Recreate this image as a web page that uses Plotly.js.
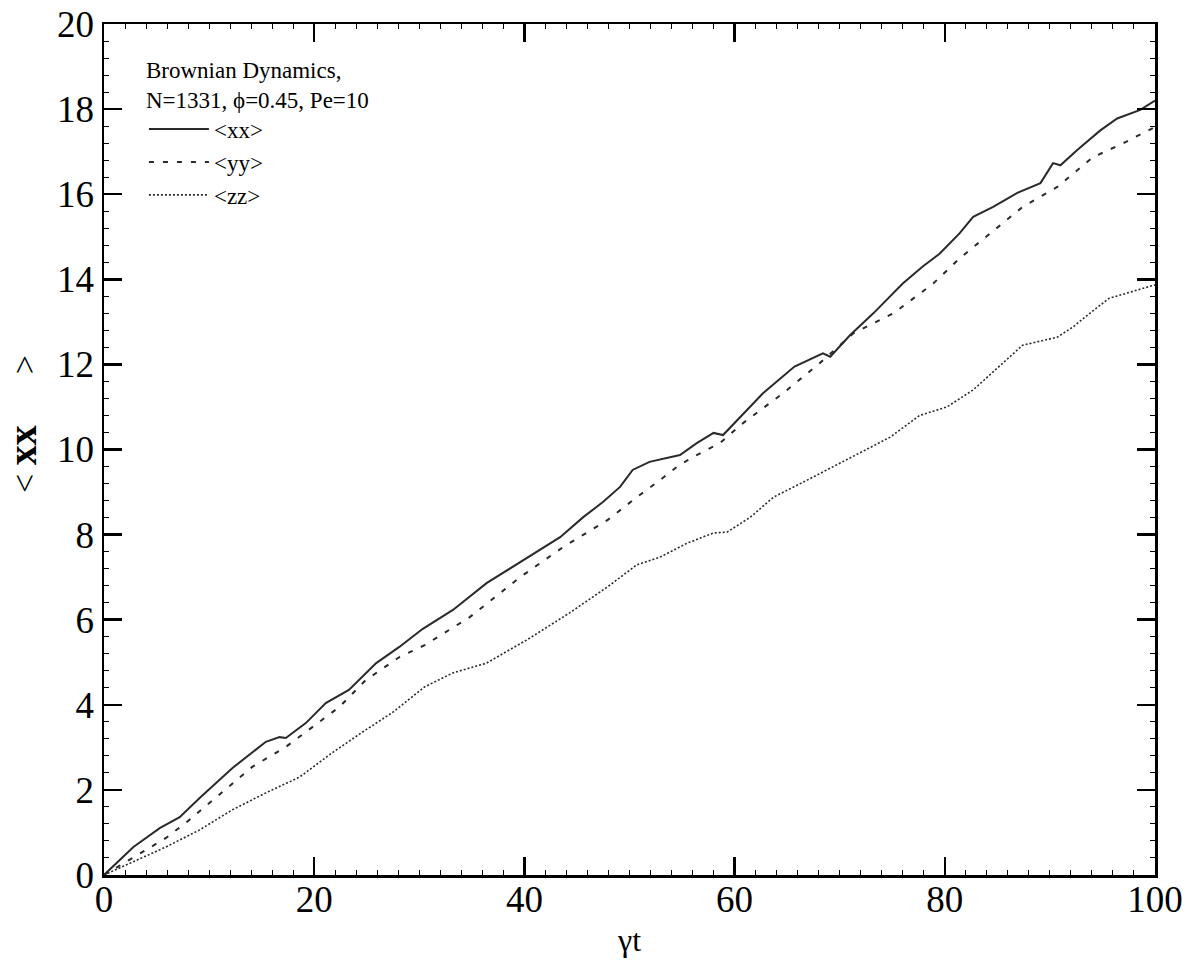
<!DOCTYPE html>
<html>
<head>
<meta charset="utf-8">
<script src="https://cdn.plot.ly/plotly-3.0.1.min.js"></script>
<style>html,body{margin:0;padding:0;background:#fff;}#chart{width:1191px;height:963px;}</style>
</head>
<body>
<div id="chart"></div>
<script>
// <xx> (solid)
const xxT = [0, 2.8, 5.3, 7.2, 9.1, 12.2, 15.4, 16.7, 17.3, 19.2, 21.1, 23.3, 25.9, 28.1, 30.3, 33.2, 36.4, 39.6, 41.2, 43.4, 45.6, 47.5, 49.1, 50.3, 51.9, 54.8, 56.4, 58.0, 58.9, 60.5, 62.7, 65.7, 68.4, 69.1, 71.0, 73.2, 76.0, 77.9, 79.5, 81.4, 82.7, 84.6, 86.9, 89.1, 90.3, 91.0, 92.6, 94.8, 96.4, 98.6, 100];
const xxV = [0, 0.66, 1.1, 1.36, 1.81, 2.51, 3.13, 3.24, 3.22, 3.57, 4.04, 4.35, 4.98, 5.36, 5.78, 6.23, 6.86, 7.36, 7.59, 7.94, 8.41, 8.77, 9.12, 9.52, 9.71, 9.87, 10.15, 10.39, 10.34, 10.76, 11.32, 11.95, 12.26, 12.18, 12.69, 13.2, 13.9, 14.3, 14.6, 15.08, 15.47, 15.7, 16.03, 16.26, 16.73, 16.68, 17.04, 17.5, 17.78, 17.98, 18.2];
// <yy> (dashed)
const yyT = [0, 5.9, 8.1, 11.2, 14.1, 17.3, 19.8, 22.4, 24.9, 28.1, 30.5, 34.8, 39.6, 43.7, 47.9, 50.7, 52.9, 54.5, 56.0, 58.6, 60.8, 64.6, 68.1, 71.3, 75.1, 78.9, 81.4, 84.3, 87.4, 90.7, 94.1, 97.0, 100];
const yyV = [0, 0.87, 1.29, 1.93, 2.54, 3.01, 3.48, 3.95, 4.58, 5.12, 5.4, 6.06, 7.0, 7.71, 8.34, 8.88, 9.28, 9.59, 9.82, 10.15, 10.62, 11.32, 12.03, 12.73, 13.2, 13.9, 14.49, 15.08, 15.7, 16.17, 16.87, 17.2, 17.58];
// <zz> (dotted)
const zzT = [0, 5.9, 9.1, 12.2, 15.4, 18.6, 21.7, 24.9, 27.4, 30.5, 33.2, 36.4, 40.2, 44.3, 47.9, 50.7, 52.9, 55.5, 58.0, 59.3, 61.5, 63.7, 66.9, 69.8, 74.8, 77.6, 80.2, 82.7, 87.4, 90.7, 92.2, 93.8, 95.6, 100];
const zzV = [0, 0.66, 1.06, 1.53, 1.93, 2.3, 2.87, 3.41, 3.81, 4.42, 4.75, 4.98, 5.52, 6.16, 6.77, 7.29, 7.47, 7.8, 8.04, 8.06, 8.41, 8.88, 9.28, 9.65, 10.29, 10.8, 11.0, 11.4, 12.45, 12.64, 12.88, 13.2, 13.55, 13.87];

const seriesNames = ['&lt;xx&gt;', '&lt;yy&gt;', '&lt;zz&gt;'];
const legendTitle = 'Brownian Dynamics,<br>N=1331, ϕ=0.45, Pe=10';
const xTitle = 'γt';
const NB = '\u00a0';
const yTitle = '\u200b' + NB.repeat(6) + '&lt;' + NB + '<span style="font-size:40px"><b>xx</b></span>' + NB.repeat(6) + '&gt;';

const lineColor = '#2a2a2a';
const traces = [
  {x: xxT, y: xxV, name: seriesNames[0], mode: 'lines', line: {color: lineColor, width: 2, dash: 'solid'}},
  {x: yyT, y: yyV, name: seriesNames[1], mode: 'lines', line: {color: lineColor, width: 2, dash: '5px,9px'}},
  {x: zzT, y: zzV, name: seriesNames[2], mode: 'lines', line: {color: lineColor, width: 1.6, dash: '2px,2px'}}
];

const serif = 'Liberation Serif, Times New Roman, serif';
const axisCommon = {
  showline: true, linecolor: '#000', linewidth: 2.5, mirror: 'allticks',
  ticks: 'inside', ticklen: 18, tickwidth: 2.5, tickcolor: '#000',
  showgrid: false, zeroline: false,
  tickfont: {family: serif, size: 37, color: '#000'}
};

const layout = {
  width: 1191, height: 963,
  margin: {l: 104, r: 36, t: 24, b: 88},
  paper_bgcolor: '#fff', plot_bgcolor: '#fff',
  font: {family: serif, color: '#000'},
  xaxis: Object.assign({}, axisCommon, {
    range: [0, 100], dtick: 20, tick0: 0, ticklabelstandoff: -10,
    minor: {dtick: 2, ticklen: 5, tickwidth: 1, tickcolor: '#000', ticks: 'inside'},
    title: {text: xTitle, font: {family: serif, size: 32, color: '#000'}, standoff: 10}
  }),
  yaxis: Object.assign({}, axisCommon, {
    range: [0, 20], dtick: 2, tick0: 0,
    minor: {dtick: 0.4, ticklen: 5, tickwidth: 1, tickcolor: '#000', ticks: 'inside'},
    title: {text: yTitle, font: {family: serif, size: 34, color: '#000'}, standoff: 16}
  }),
  showlegend: true,
  legend: {
    x: 0.038, y: 0.972, xanchor: 'left', yanchor: 'top',
    bgcolor: 'rgba(0,0,0,0)', borderwidth: 0,
    font: {family: serif, size: 23, color: '#000'},
    title: {text: legendTitle, font: {family: serif, size: 23, color: '#000'}, side: 'top'},
    tracegroupgap: 0, itemwidth: 60
  }
};

Plotly.newPlot('chart', traces, layout, {displayModeBar: false, staticPlot: true});
</script>
</body>
</html>
